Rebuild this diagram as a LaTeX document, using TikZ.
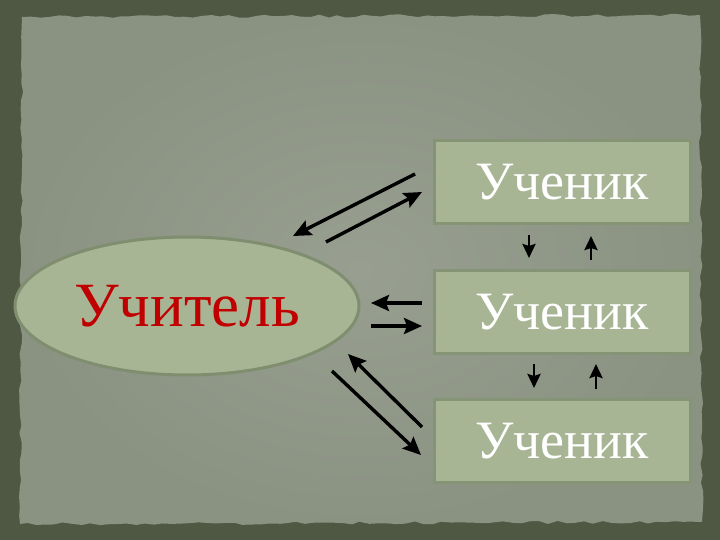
\documentclass[tikz,border=0pt]{standalone}
\usepackage{fontspec}
\setmainfont{Liberation Serif}
\usetikzlibrary{arrows.meta,decorations.pathmorphing,shapes.geometric}
\definecolor{frame}{RGB}{78,88,66}
\definecolor{paper}{RGB}{138,146,130}
\definecolor{paperlight}{RGB}{152,159,144}
\definecolor{boxfill}{RGB}{168,181,148}
\definecolor{boxline}{RGB}{133,148,116}
\definecolor{ovalline}{RGB}{128,142,112}
\definecolor{teacher}{RGB}{192,0,0}
\tikzset{
  pupil/.style={draw=boxline,line width=3pt,fill=boxfill,minimum width=256pt,minimum height=83pt,
    text=white,font=\fontsize{54}{60}\selectfont},
  bigarrow/.style={line width=3.4pt,-{Stealth[length=18pt,width=16pt,inset=3pt]}},
  smallarrow/.style={line width=2.8pt,-{Stealth[length=14pt,width=13pt,inset=2pt]}}
}
\begin{document}
\begin{tikzpicture}[x=1pt,y=-1pt]
	\useasboundingbox (0,0) rectangle (720,540);
	% background
	\fill[frame] (0,0) rectangle (720,540);
	\pgfmathsetseed{7}
	\shade[inner color=paperlight,outer color=paper,decorate,decoration={random steps,segment length=9pt,amplitude=1.5pt}]
		(22,17) -- (700,15) -- (702,522) -- (20,524) -- cycle;
	% nodes
	\node[ellipse,draw=ovalline,line width=3pt,fill=boxfill,minimum width=344pt,minimum height=138pt,
		text=teacher,font=\fontsize{63}{70}\selectfont] (teacher) at (187,306) {Учитель};
	\node[pupil] (p1) at (562,182) {Ученик};
	\node[pupil] (p2) at (562,312) {Ученик};
	\node[pupil] (p3) at (562,441) {Ученик};
	% arrow ends
	\coordinate (a1s) at (415,174); \coordinate (a1e) at (293,236);
	\coordinate (a2s) at (326,242); \coordinate (a2e) at (422,192);
	\coordinate (a3s) at (422,303); \coordinate (a3e) at (371,303);
	\coordinate (a4s) at (371,326); \coordinate (a4e) at (422,326);
	\coordinate (a5s) at (422,427); \coordinate (a5e) at (348,354);
	\coordinate (a6s) at (332,371); \coordinate (a6e) at (421,455);
	\coordinate (v1s) at (529,235); \coordinate (v1e) at (529,258);
	\coordinate (v2s) at (591,260); \coordinate (v2e) at (591,236);
	\coordinate (v3s) at (534,364); \coordinate (v3e) at (534,388);
	\coordinate (v4s) at (596,389); \coordinate (v4e) at (596,364);
	% arrows
	\draw[bigarrow] (a1s) -- (a1e);
	\draw[bigarrow] (a2s) -- (a2e);
	\draw[bigarrow] (a3s) -- (a3e);
	\draw[bigarrow] (a4s) -- (a4e);
	\draw[bigarrow] (a5s) -- (a5e);
	\draw[bigarrow] (a6s) -- (a6e);
	\draw[smallarrow] (v1s) -- (v1e);
	\draw[smallarrow] (v2s) -- (v2e);
	\draw[smallarrow] (v3s) -- (v3e);
	\draw[smallarrow] (v4s) -- (v4e);
\end{tikzpicture}
\end{document}
